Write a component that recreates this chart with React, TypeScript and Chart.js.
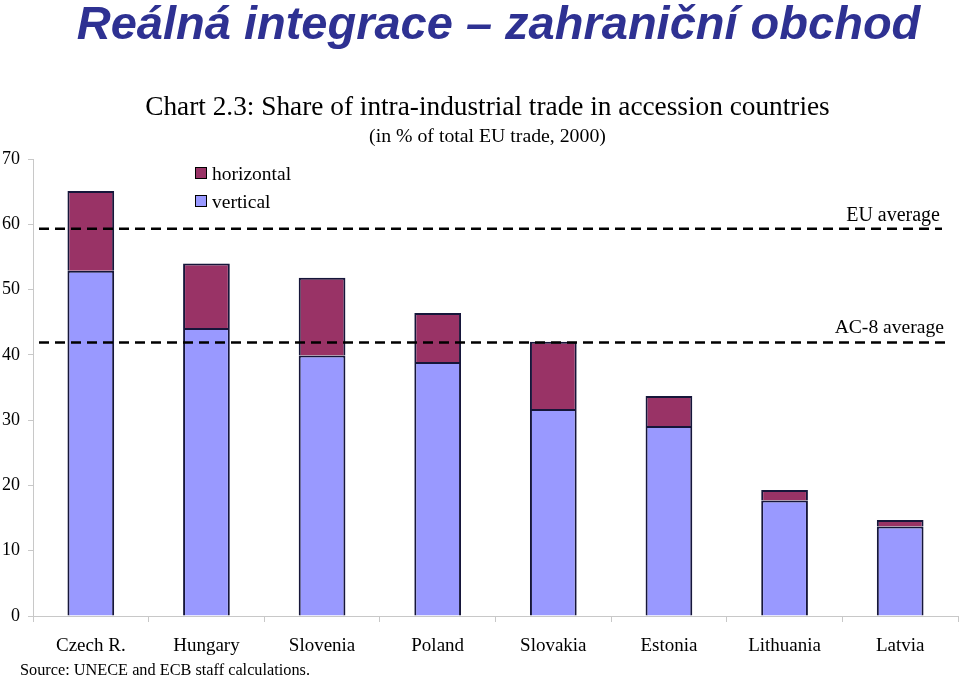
import React, { useEffect, useRef } from "react";
import { Chart, registerables } from "chart.js";

Chart.register(...registerables);

const countries = ["Czech R.", "Hungary", "Slovenia", "Poland", "Slovakia", "Estonia", "Lithuania", "Latvia"];
const verticalShare = [52.9, 44.1, 39.9, 38.9, 31.7, 29.1, 17.7, 13.7];
const horizontalShare = [12.2, 9.9, 11.9, 7.5, 10.3, 4.6, 1.6, 1.0];
const euAverage = 59.3;
const ac8Average = 41.9;
const yTicks = [0, 10, 20, 30, 40, 50, 60, 70];

const pageTitle = "Reálná integrace – zahraniční obchod";
const chartTitle = "Chart 2.3: Share of intra-industrial trade in accession countries";
const chartSubtitle = "(in % of total EU trade, 2000)";
const sourceText = "Source: UNECE and ECB staff calculations.";

const SERIF = '"Liberation Serif", "Times New Roman", serif';

const overlayPlugin = {
  id: "overlay",
  afterDatasetsDraw(chart: any) {
    const ctx = chart.ctx;
    const area = chart.chartArea;
    const y = chart.scales.y;
    ctx.save();
    ctx.strokeStyle = "#000";
    ctx.lineWidth = 2.5;
    ctx.setLineDash([10, 6]);
    const eu = y.getPixelForValue(euAverage);
    ctx.beginPath();
    ctx.moveTo(area.left + 6, eu);
    ctx.lineTo(area.right - 16, eu);
    ctx.stroke();
    const ac = y.getPixelForValue(ac8Average);
    ctx.beginPath();
    ctx.moveTo(area.left + 6, ac);
    ctx.lineTo(area.right - 8, ac);
    ctx.stroke();
    ctx.setLineDash([]);
    ctx.fillStyle = "#000";
    ctx.textAlign = "right";
    ctx.textBaseline = "alphabetic";
    ctx.font = `20px ${SERIF}`;
    ctx.fillText("EU average", area.right - 18, eu - 8);
    ctx.font = `19.6px ${SERIF}`;
    ctx.fillText("AC-8 average", area.right - 14, ac - 9);
    ctx.restore();
  },
  afterDraw(chart: any) {
    const ctx = chart.ctx;
    ctx.save();
    ctx.textBaseline = "alphabetic";
    ctx.fillStyle = "#2E3192";
    ctx.font = 'italic bold 47px "Liberation Sans", Arial, sans-serif';
    ctx.textAlign = "center";
    ctx.fillText(pageTitle, 498.5, 39);
    ctx.fillStyle = "#000";
    ctx.font = `27.3px ${SERIF}`;
    ctx.fillText(chartTitle, 487.5, 115);
    ctx.font = `19.8px ${SERIF}`;
    ctx.fillText(chartSubtitle, 487.5, 142);
    ctx.textAlign = "left";
    ctx.font = `16.3px ${SERIF}`;
    ctx.fillText(sourceText, 20, 675);
    const items = [
      { label: chart.data.datasets[1].label, color: chart.data.datasets[1].backgroundColor, y: 167 },
      { label: chart.data.datasets[0].label, color: chart.data.datasets[0].backgroundColor, y: 195 },
    ];
    ctx.font = `19.5px ${SERIF}`;
    items.forEach((it) => {
      ctx.fillStyle = it.color;
      ctx.fillRect(195, it.y, 12, 12);
      ctx.strokeStyle = "#000";
      ctx.lineWidth = 1;
      ctx.strokeRect(195.5, it.y + 0.5, 11, 11);
      ctx.fillStyle = "#000";
      ctx.fillText(it.label, 212, it.y + 13);
    });
    ctx.restore();
  },
};

export default function App() {
  const ref = useRef<HTMLCanvasElement>(null);
  useEffect(() => {
    document.body.style.margin = "0";
    const chart = new Chart(ref.current!, {
      type: "bar",
      data: {
        labels: countries,
        datasets: [
          {
            label: "vertical",
            data: verticalShare,
            backgroundColor: "#9999FF",
            borderColor: "#16163a",
            borderWidth: 2,
            categoryPercentage: 1,
            barPercentage: 0.404,
          },
          {
            label: "horizontal",
            data: horizontalShare,
            backgroundColor: "#993366",
            borderColor: "#16163a",
            borderWidth: 2,
            categoryPercentage: 1,
            barPercentage: 0.404,
          },
        ],
      },
      options: {
        responsive: false,
        animation: false,
        layout: { padding: { top: 159, right: 2, bottom: 13, left: 0 } },
        plugins: { legend: { display: false }, tooltip: { enabled: false }, title: { display: false } },
        scales: {
          x: {
            stacked: true,
            grid: { display: true, drawOnChartArea: false, drawTicks: true, tickLength: 6, color: "#c8c8c8", offset: true },
            border: { display: true, color: "#c8c8c8", width: 1 },
            ticks: { color: "#000", font: { family: SERIF, size: 19 }, padding: 13 },
            afterFit: (s: any) => { s.height = 50; },
          },
          y: {
            stacked: true,
            min: 0,
            max: 70,
            afterBuildTicks: (s: any) => { s.ticks = yTicks.map((v) => ({ value: v })); },
            grid: { display: true, drawOnChartArea: false, drawTicks: true, tickLength: 5, color: "#c8c8c8" },
            border: { display: true, color: "#c8c8c8", width: 1 },
            ticks: { color: "#000", font: { family: SERIF, size: 18 }, padding: 8 },
            afterFit: (s: any) => { s.width = 33; },
          },
        },
      },
      plugins: [overlayPlugin],
    });
    return () => chart.destroy();
  }, []);
  return (
    <div style={{ width: 960, height: 679, background: "#fff" }}>
      <canvas ref={ref} width={960} height={679} />
    </div>
  );
}
